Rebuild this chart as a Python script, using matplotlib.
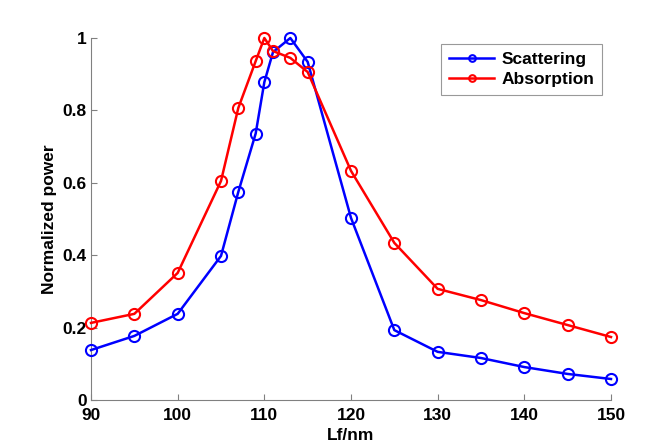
import matplotlib
matplotlib.use("Agg")
import matplotlib.pyplot as plt
from matplotlib.ticker import FuncFormatter

plt.rcParams['font.family'] = ['Liberation Sans', 'DejaVu Sans']
plt.rcParams['font.weight'] = 'bold'

lf = [90, 95, 100, 105, 107, 109, 110, 111, 113, 115, 120, 125, 130, 135, 140, 145, 150]
scattering = [0.138, 0.177, 0.238, 0.398, 0.575, 0.736, 0.878, 0.961, 1.0, 0.934,
              0.503, 0.193, 0.133, 0.116, 0.091, 0.072, 0.058]
absorption = [0.213, 0.238, 0.351, 0.605, 0.807, 0.936, 1.0, 0.964, 0.945, 0.906,
              0.633, 0.434, 0.307, 0.276, 0.240, 0.207, 0.174]
xticks = [90, 100, 110, 120, 130, 140, 150]
yticks = [0, 0.2, 0.4, 0.6, 0.8, 1.0]

fig = plt.figure(figsize=(6.58, 4.48), dpi=100)
ax = fig.add_axes([91/658, 1-400/448, 520/658, 362/448])

ax.plot(lf, scattering, '-o', color='#0000ff', lw=1.8, ms=8, mfc='none', mew=1.5,
        label='Scattering', clip_on=False, zorder=3)
ax.plot(lf, absorption, '-o', color='#ff0000', lw=1.8, ms=8, mfc='none', mew=1.5,
        label='Absorption', clip_on=False, zorder=3)

ax.set_xlim(90, 150)
ax.set_ylim(0, 1)
ax.set_xticks(xticks)
ax.set_yticks(yticks)
ax.yaxis.set_major_formatter(FuncFormatter(lambda v, p: ('%g' % v)))
for s in ['top', 'right']:
    ax.spines[s].set_visible(False)
for s in ['left', 'bottom']:
    ax.spines[s].set_color('#808080')
    ax.spines[s].set_linewidth(0.8)
ax.tick_params(direction='in', length=4, color='#808080', labelsize=12.5)
ax.tick_params(axis='x', pad=6)
ax.tick_params(axis='y', pad=3)
for lab in ax.get_xticklabels() + ax.get_yticklabels():
    lab.set_fontweight('bold')

ax.set_xlabel('Lf/nm', fontsize=12.5, fontweight='bold', labelpad=3)
ax.set_ylabel('Normalized power', fontsize=12.5, fontweight='bold', labelpad=4)

leg = ax.legend(loc='upper right', bbox_to_anchor=((602-91)/520, (400-44)/362), borderaxespad=0,
                fontsize=12.5, frameon=True, fancybox=False, edgecolor='#808080',
                handlelength=2.6, handletextpad=0.4, borderpad=0.45, labelspacing=0.3,
                markerscale=0.6)
leg.get_frame().set_linewidth(0.8)
for t in leg.get_texts():
    t.set_fontweight('bold')

fig.savefig('out.png', dpi=100)
